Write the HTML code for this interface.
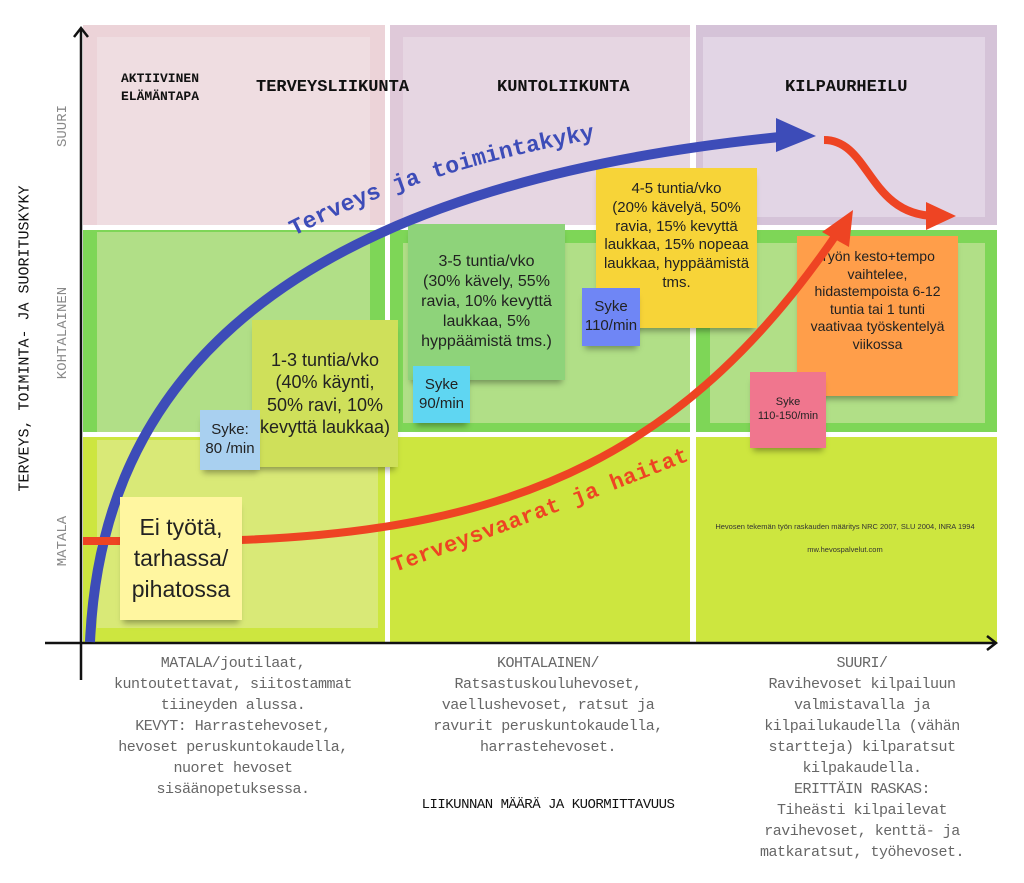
<!DOCTYPE html>
<html><head><meta charset="utf-8"><style>
body{margin:0;width:1024px;height:883px;background:#fff;position:relative;overflow:hidden;font-family:"Liberation Sans",sans-serif}
.n{position:absolute;font-family:"Liberation Sans Narrow","Liberation Sans",sans-serif;color:#222;text-align:center;box-shadow:0 6px 6px -3px rgba(0,0,0,.35);display:flex;align-items:center;justify-content:center;line-height:1.25}
.h{position:absolute;font-family:"Liberation Mono",monospace;font-weight:bold;color:#111}
.b{position:absolute;font-family:"Liberation Mono",monospace;color:#666;font-size:15px;line-height:21px;text-align:center;letter-spacing:-0.5px}
.v{position:absolute;font-family:"Liberation Mono",monospace;color:#888;font-size:14px;transform:rotate(-90deg);transform-origin:center;white-space:nowrap}
</style></head><body>
<svg width="1024" height="883" style="position:absolute;left:0;top:0">
<rect x="83" y="25" width="302" height="200" fill="#ecd3d8"/>
<rect x="97" y="37" width="273" height="188" fill="#efdde1"/>
<rect x="390" y="25" width="300" height="200" fill="#dfc9d9"/>
<rect x="403" y="37" width="287" height="188" fill="#e6d6e2"/>
<rect x="696" y="25" width="301" height="200" fill="#d5c3d8"/>
<rect x="703" y="37" width="282" height="180" fill="#e2d5e5"/>
<rect x="83" y="230" width="302" height="202" fill="#7ed657"/>
<rect x="97" y="232" width="273" height="200" fill="#b1df87"/>
<rect x="390" y="230" width="300" height="202" fill="#7ed657"/>
<rect x="403" y="243" width="287" height="180" fill="#b1df87"/>
<rect x="696" y="230" width="301" height="202" fill="#7ed657"/>
<rect x="710" y="243" width="275" height="180" fill="#b1df87"/>
<rect x="83" y="437" width="302" height="206" fill="#cde63f"/>
<rect x="97" y="440" width="281" height="188" fill="#d9e977"/>
<rect x="390" y="437" width="300" height="206" fill="#cde63f"/>
<rect x="696" y="437" width="301" height="206" fill="#cde63f"/>
<line x1="81" y1="30" x2="81" y2="680" stroke="#111" stroke-width="2.5"/>
<polyline points="74,37 81,28 88,37" fill="none" stroke="#111" stroke-width="2.5"/>
<line x1="45" y1="643" x2="995" y2="643" stroke="#111" stroke-width="2.5"/>
<polyline points="987,636 996,643 987,650" fill="none" stroke="#111" stroke-width="2.5"/>
<text x="845" y="529" font-size="7.5" fill="#333" text-anchor="middle" font-family="Liberation Sans,sans-serif">Hevosen tekemän työn raskauden määritys NRC 2007, SLU 2004, INRA 1994</text>
<text x="845" y="552" font-size="7.5" fill="#333" text-anchor="middle" font-family="Liberation Sans,sans-serif">mw.hevospalvelut.com</text>
</svg>
<div class="h" style="left:121px;top:70px;font-size:13px;line-height:18px">AKTIIVINEN<br>ELÄMÄNTAPA</div>
<div class="h" style="left:256px;top:78px;font-size:17px">TERVEYSLIIKUNTA</div>
<div class="h" style="left:497px;top:78px;font-size:17px">KUNTOLIIKUNTA</div>
<div class="h" style="left:785px;top:78px;font-size:17px">KILPAURHEILU</div>
<div class="v" style="left:-135px;top:330px;width:320px;text-align:center;color:#111;font-size:15px">TERVEYS, TOIMINTA- JA SUORITUSKYKY</div>
<div class="v" style="left:33px;top:118px;width:60px;text-align:center">SUURI</div>
<div class="v" style="left:13px;top:325px;width:100px;text-align:center">KOHTALAINEN</div>
<div class="v" style="left:33px;top:533px;width:60px;text-align:center">MATALA</div>
<div class="n" style="left:252px;top:320px;width:146px;height:147px;background:#cfe05a;font-size:18px">1-3 tuntia/vko<br>(40% käynti,<br>50% ravi, 10%<br>kevyttä laukkaa)</div>
<div class="n" style="left:200px;top:410px;width:60px;height:60px;background:#a9d0f0;font-size:15px">Syke:<br>80 /min</div>
<div class="n" style="left:408px;top:224px;width:157px;height:156px;background:#8ed37a;font-size:16px">3-5 tuntia/vko<br>(30% kävely, 55%<br>ravia, 10% kevyttä<br>laukkaa, 5%<br>hyppäämistä tms.)</div>
<div class="n" style="left:413px;top:366px;width:57px;height:57px;background:#5fd6f2;font-size:15px">Syke<br>90/min</div>
<div class="n" style="left:596px;top:168px;width:161px;height:160px;background:#f7d438;font-size:15px;align-items:flex-start;padding-top:12px;box-sizing:border-box">4-5 tuntia/vko<br>(20% kävelyä, 50%<br>ravia, 15% kevyttä<br>laukkaa, 15% nopeaa<br>laukkaa, hyppäämistä<br>tms.</div>
<div class="n" style="left:582px;top:288px;width:58px;height:58px;background:#6f86f5;font-size:15px">Syke<br>110/min</div>
<div class="n" style="left:797px;top:236px;width:161px;height:160px;background:#ff9e4a;font-size:14px;align-items:flex-start;padding-top:12px;box-sizing:border-box">Työn kesto+tempo<br>vaihtelee,<br>hidastempoista 6-12<br>tuntia tai 1 tunti<br>vaativaa työskentelyä<br>viikossa</div>
<div class="n" style="left:750px;top:372px;width:76px;height:76px;background:#f0768e;font-size:11px">Syke<br>110-150/min</div>
<svg width="1024" height="883" style="position:absolute;left:0;top:0">
<path d="M90,642 C100,420 230,190 790,136" fill="none" stroke="#3d4cb8" stroke-width="10"/>
<polygon points="776,118 816,136 776,152" fill="#3d4cb8"/>
<path id="bt" d="M294,236 Q430,166 612,136" fill="none"/>
<text font-family="Liberation Mono,monospace" font-weight="bold" font-size="23" fill="#3d4cb8"><textPath href="#bt">Terveys ja toimintakyky</textPath></text>
<line x1="83" y1="541" x2="122" y2="541" stroke="#ee4423" stroke-width="8"/>
<path d="M240,540 C520,530 690,450 838,232" fill="none" stroke="#ee4423" stroke-width="8"/>
<polygon points="822,232 853,210 849,247" fill="#ee4423"/>
<path d="M824,140 C870,140 868,215 935,216" fill="none" stroke="#ee4423" stroke-width="8"/>
<polygon points="926,202 956,216 926,230" fill="#ee4423"/>
<path id="rt" d="M395,572 Q560,512 710,452" fill="none"/>
<text font-family="Liberation Mono,monospace" font-weight="bold" font-size="22" fill="#ee4423" letter-spacing="0.5"><textPath href="#rt">Terveysvaarat ja haitat</textPath></text>
</svg>
<div class="n" style="left:120px;top:497px;width:122px;height:123px;background:#fff6a0;font-size:23px;line-height:1.35">Ei työtä,<br>tarhassa/<br>pihatossa</div>
<div class="b" style="left:83px;top:653px;width:300px">MATALA/joutilaat,<br>kuntoutettavat, siitostammat<br>tiineyden alussa.<br>KEVYT: Harrastehevoset,<br>hevoset peruskuntokaudella,<br>nuoret hevoset<br>sisäänopetuksessa.</div>
<div class="b" style="left:398px;top:653px;width:300px">KOHTALAINEN/<br>Ratsastuskouluhevoset,<br>vaellushevoset, ratsut ja<br>ravurit peruskuntokaudella,<br>harrastehevoset.</div>
<div class="b" style="left:712px;top:653px;width:300px">SUURI/<br>Ravihevoset kilpailuun<br>valmistavalla ja<br>kilpailukaudella (vähän<br>startteja) kilparatsut<br>kilpakaudella.<br>ERITTÄIN RASKAS:<br>Tiheästi kilpailevat<br>ravihevoset, kenttä- ja<br>matkaratsut, työhevoset.</div>
<div class="b" style="left:398px;top:795px;width:300px;color:#111;font-size:14px">LIIKUNNAN MÄÄRÄ JA KUORMITTAVUUS</div>
</body></html>
